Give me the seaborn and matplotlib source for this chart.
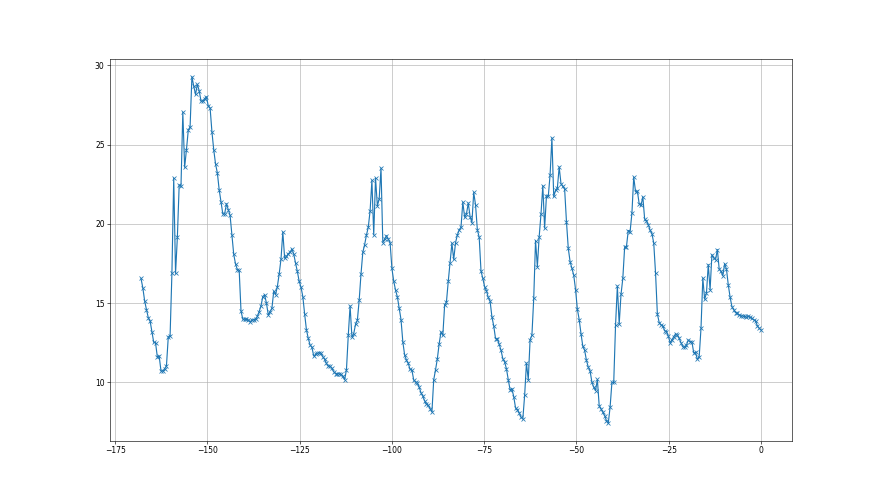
"""
plot.py - one week of hourly-ish readings, drawn as a marked line
"""

import matplotlib

matplotlib.use("Agg")

import matplotlib.pyplot as plt
import numpy as np
import seaborn as sns


# readings, oldest first, roughly every half hour
WEEK_START_H = -168
WEEK_END_H = 0

day1 = [16.56, 15.97, 15.15, 14.60, 14.09, 13.88, 13.19, 12.53, 12.50, 11.60, 11.66, 10.72,
        10.72, 10.85, 11.05, 12.87, 12.95, 16.88, 22.89, 16.88, 19.16, 22.45, 22.41, 27.05,
        23.57, 24.68, 25.91, 26.12, 29.28, 28.69, 28.16, 28.80, 28.40, 27.74, 27.74, 27.89,
        28.02, 27.43, 27.32, 25.82, 24.68, 23.78, 23.21, 22.15, 21.37, 20.63, 20.63, 21.27,
        20.89, 20.53, 19.32, 18.08, 17.47]
day2 = [17.11, 17.07, 14.51, 13.99, 13.99, 13.99, 13.95, 13.82, 13.95, 13.95, 13.99, 14.16,
        14.47, 14.83, 15.42, 15.53, 15.00, 14.26, 14.47, 14.68, 15.74, 15.53, 16.05, 16.84,
        17.78, 19.49, 17.85, 17.95, 18.12, 18.21, 18.42, 18.10, 17.53, 17.00, 16.37, 16.01,
        15.42, 14.32, 13.31, 12.78, 12.36, 12.22, 11.67, 11.77, 11.84, 11.88, 11.84, 11.62,
        11.46, 11.20, 11.03, 11.03, 10.89, 10.68]
day3 = [10.55, 10.55, 10.55, 10.51, 10.38, 10.17, 10.80, 12.97, 14.83, 12.87, 13.08, 13.67,
        13.92, 15.19, 16.84, 18.21, 18.69, 19.30, 19.79, 20.82, 22.74, 19.30, 22.89, 21.14,
        21.56, 23.52, 18.82, 19.03, 19.26, 19.03, 18.82, 17.19, 16.39, 15.82, 15.40, 14.70,
        13.97, 12.57, 11.73, 11.41, 11.20, 10.82, 10.78, 10.15, 10.04, 9.94, 9.70, 9.35,
        9.13, 8.84, 8.63, 8.57, 8.35, 8.14]
day4 = [10.17, 10.80, 11.50, 12.45, 13.19, 12.97, 14.87, 15.08, 16.39, 17.55, 18.78, 17.76,
        18.82, 19.30, 19.62, 19.79, 21.37, 20.42, 20.63, 21.31, 20.46, 20.08, 21.98, 21.20,
        19.62, 19.16, 17.03, 16.56, 16.03, 15.78, 15.36, 15.13, 14.14, 13.57, 12.76, 12.76,
        12.41, 12.03, 11.50, 11.29, 10.86, 10.17, 9.54, 9.60, 9.11, 8.40, 8.29, 8.08,
        7.81, 7.70, 9.18, 11.22, 10.17, 12.70, 12.97, 15.30, 18.95]
day5 = [17.30, 19.20, 20.63, 22.41, 19.73, 21.77, 21.73, 23.10, 25.42, 21.73, 22.11, 22.26,
        23.59, 22.53, 22.36, 22.19, 20.15, 18.46, 17.62, 17.19, 16.77, 15.86, 14.62, 13.97,
        13.08, 12.28, 12.03, 11.39, 10.97, 10.72, 10.02, 9.70, 9.49, 10.19, 8.54, 8.33,
        8.12, 7.91, 7.59, 7.43, 8.44, 10.00, 10.00, 13.61, 16.08, 13.67, 15.55, 16.56,
        18.52, 18.57, 19.58, 19.51, 20.67, 22.95]
day6 = [22.03, 22.07, 21.27, 21.16, 21.71, 20.32, 20.17, 19.96, 19.60, 19.39, 18.80, 16.90,
        14.32, 13.78, 13.63, 13.57, 13.27, 13.21, 12.93, 12.51, 12.68, 12.89, 13.06, 12.99,
        12.78, 12.51, 12.26, 12.22, 12.36, 12.68, 12.57, 12.57, 11.87, 11.90, 11.45, 11.62,
        13.42, 16.58, 15.25, 15.63, 17.43, 15.84, 18.06, 17.85, 17.74, 18.38, 17.15, 17.00,
        16.73, 17.49, 17.15, 16.16, 15.38, 14.79, 14.58, 14.41, 14.37, 14.26, 14.20, 14.20,
        14.16, 14.11, 14.16, 14.11, 14.05, 13.95, 13.88, 13.57, 13.42, 13.31]


def make_figure():
    values = np.array(day1 + day2 + day3 + day4 + day5 + day6)
    hours = np.linspace(WEEK_START_H, WEEK_END_H, len(values))

    fig, ax = plt.subplots(figsize=(16, 9), dpi=55)
    sns.lineplot(x=hours, y=values, ax=ax, marker="x", color="#1f77b4",
                 markeredgecolor="#1f77b4", markeredgewidth=1.0, markersize=6,
                 linewidth=1.5)
    ax.grid(True, color="#b0b0b0", linewidth=0.8)
    ax.set_xlabel("")
    ax.set_ylabel("")
    fig.savefig("out.png", dpi=55)
    plt.close(fig)


if __name__ == "__main__":
    make_figure()
